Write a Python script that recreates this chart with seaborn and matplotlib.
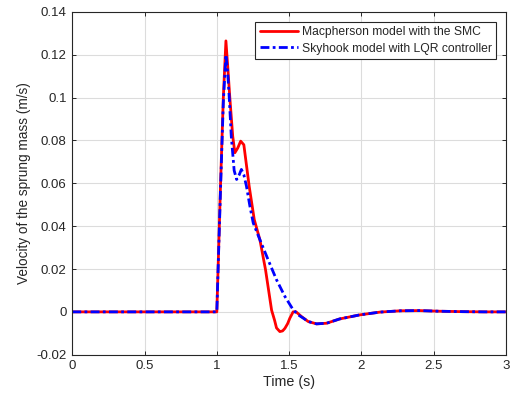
import matplotlib
matplotlib.use("Agg")
import matplotlib.pyplot as plt
import seaborn as sns
import pandas as pd

# Data
t_smc = [0.0, 0.5, 1.0, 1.026, 1.045, 1.063, 1.075, 1.09, 1.11, 1.125, 1.145, 1.165, 1.187,
         1.224, 1.259, 1.298, 1.337, 1.379, 1.40, 1.413, 1.436, 1.455, 1.471, 1.49, 1.505, 1.528, 1.547,
         1.586, 1.632, 1.69, 1.76, 1.85, 1.99, 2.13, 2.27, 2.4, 2.54, 2.7, 2.85, 3.0]
v_smc = [0.0, 0.0, 0.0, 0.060, 0.100, 0.1265, 0.115, 0.100, 0.082, 0.0743, 0.0765, 0.0797, 0.078,
         0.0586, 0.0431, 0.0337, 0.0197, 0.0008, -0.004, -0.0075, -0.0092, -0.0089, -0.0077, -0.0055, -0.003, 0.0, 0.0001,
         -0.0022, -0.0045, -0.0056, -0.0053, -0.0033, -0.0014, -0.0001, 0.0005, 0.0006, 0.0003, 0.0001, 0.0, 0.0]

t_lqr = [0.0, 0.5, 1.0, 1.026, 1.045, 1.063, 1.075, 1.086, 1.1, 1.12, 1.137, 1.155, 1.17, 1.187,
         1.205, 1.229, 1.252, 1.298, 1.355, 1.413, 1.471, 1.528, 1.563, 1.6, 1.632, 1.69, 1.76,
         1.85, 1.99, 2.13, 2.27, 2.4, 2.54, 2.7, 2.85, 3.0]
v_lqr = [0.0, 0.0, 0.0, 0.058, 0.098, 0.120, 0.112, 0.100, 0.082, 0.066, 0.0618, 0.064, 0.0665, 0.064,
         0.0587, 0.0493, 0.0415, 0.0337, 0.0243, 0.015, 0.0072, 0.001, -0.0014, -0.0030, -0.0045, -0.0056, -0.0053,
         -0.0033, -0.0014, -0.0001, 0.0005, 0.0006, 0.0003, 0.0001, 0.0, 0.0]

labels = ["Macpherson model with the SMC", "Skyhook model with LQR controller"]

sns.set_style("white")
plt.rcParams['font.family'] = ['Liberation Sans', 'DejaVu Sans']

fig = plt.figure(figsize=(5.12, 3.99), dpi=100)
ax = fig.add_axes([0.1412, 0.111, 0.8468, 0.859])

df1 = pd.DataFrame({"t": t_smc, "v": v_smc})
df2 = pd.DataFrame({"t": t_lqr, "v": v_lqr})
sns.lineplot(data=df1, x="t", y="v", ax=ax, color="#ff0000", linewidth=2.0,
             label=labels[0], estimator=None, sort=False)
sns.lineplot(data=df2, x="t", y="v", ax=ax, color="#0000ff", linewidth=2.0,
             label=labels[1], estimator=None, sort=False, linestyle=(0, (3.2, 1.2, 1.0, 1.2)))

ax.set_xlim(0, 3)
ax.set_ylim(-0.02, 0.14)
ax.set_xticks([0, 0.5, 1, 1.5, 2, 2.5, 3])
ax.set_xticklabels(["0", "0.5", "1", "1.5", "2", "2.5", "3"])
ax.set_yticks([-0.02, 0, 0.02, 0.04, 0.06, 0.08, 0.1, 0.12, 0.14])
ax.set_yticklabels(["-0.02", "0", "0.02", "0.04", "0.06", "0.08", "0.1", "0.12", "0.14"])
ax.grid(True, color="#dcdcdc", linewidth=0.8)
ax.set_axisbelow(True)
ax.tick_params(direction="in", length=3, width=0.7, labelsize=9.5, colors="#262626",
               top=True, right=True, bottom=True, left=True, pad=4)
for s in ax.spines.values():
    s.set_color("#262626")
    s.set_linewidth(0.8)
ax.set_xlabel("Time (s)", fontsize=10.3, color="#262626", labelpad=2)
ax.set_ylabel("Velocity of the sprung mass (m/s)", fontsize=9.8, color="#262626", labelpad=4)

leg = ax.legend(loc="upper right", fontsize=8.7, frameon=True, fancybox=False,
                edgecolor="#262626", framealpha=1, handlelength=3.2,
                borderaxespad=0.8, borderpad=0.35, labelspacing=0.4, handletextpad=0.3)
leg.get_frame().set_linewidth(0.8)

fig.savefig("out.png", dpi=100)
